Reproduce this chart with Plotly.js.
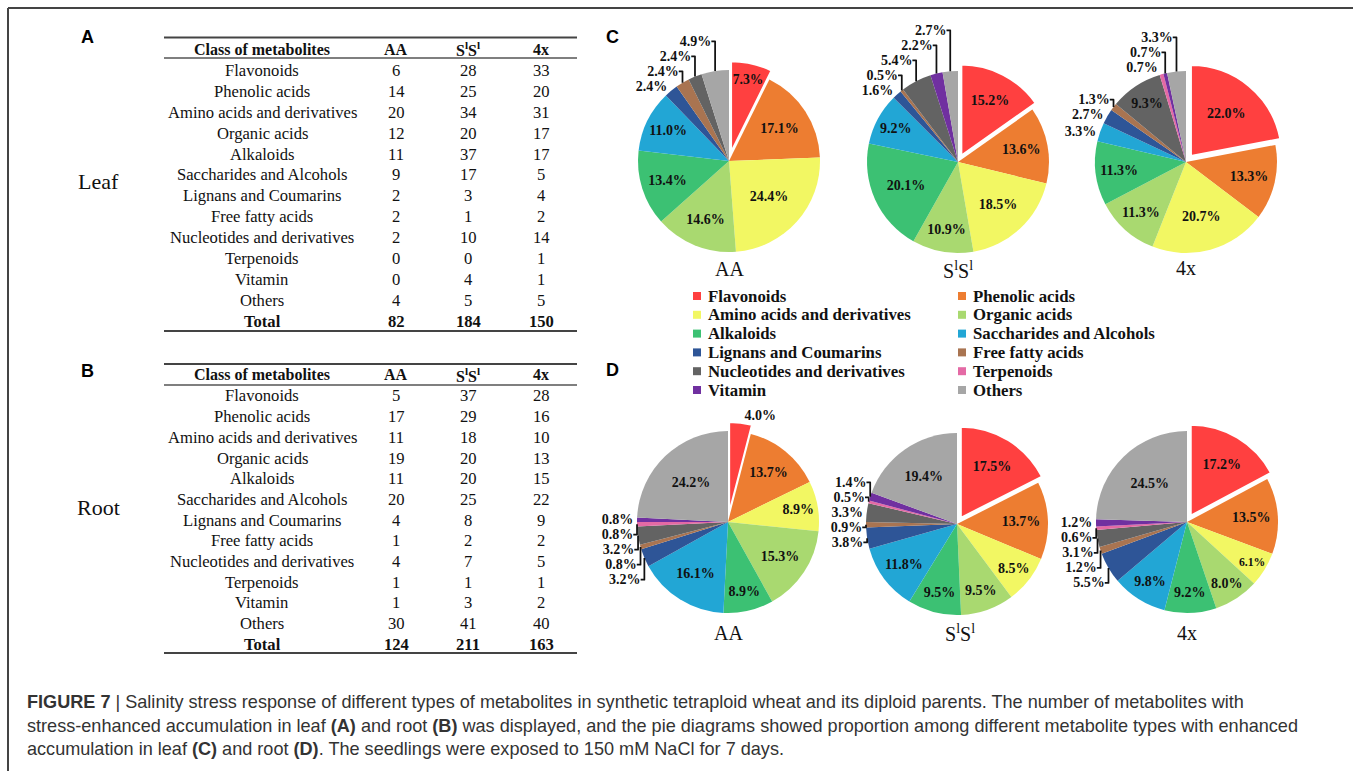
<!DOCTYPE html>
<html>
<head>
<meta charset="utf-8">
<script src="https://cdn.plot.ly/plotly-3.0.1.min.js"></script>
<style>html,body{margin:0;padding:0;background:#fff;}#chart{width:1355px;height:771px;}</style>
</head>
<body>
<div id="chart"></div>
<script>
// ---------- data ----------
const categories = ['Flavonoids','Phenolic acids','Amino acids and derivatives','Organic acids','Alkaloids',
  'Saccharides and Alcohols','Lignans and Coumarins','Free fatty acids','Nucleotides and derivatives',
  'Terpenoids','Vitamin','Others'];
const genotypes = ['AA','S<sup>l</sup>S<sup>l</sup>','4x'];
// table counts
const leafAA = [6,14,20,12,11,9,2,2,2,0,0,4];
const leafSS = [28,25,34,20,37,17,3,1,10,0,4,5];
const leaf4x = [33,20,31,17,17,5,4,2,14,1,1,5];
const rootAA = [5,17,11,19,11,20,4,1,4,1,1,30];
const rootSS = [37,29,18,20,20,25,8,2,7,1,3,41];
const root4x = [28,16,10,13,15,22,9,2,5,1,2,40];
// pie D "4x" as drawn in the figure (phenolic 13.5%, saccharides 9.8%)
const root4xPie = [28,22,10,13,15,16,9,2,5,1,2,40];
const colors = ['#FF4040','#ED7D31','#F2F763','#A9D970','#3CC173','#22A6D5','#2E5597','#A97451',
  '#636363','#E46AA5','#7030A0','#A6A6A6'];
const captionLines = [
  '<b>FIGURE 7</b> | Salinity stress response of different types of metabolites in synthetic tetraploid wheat and its diploid parents. The number of metabolites with',
  'stress-enhanced accumulation in leaf <b>(A)</b> and root <b>(B)</b> was displayed, and the pie diagrams showed proportion among different metabolite types with enhanced',
  'accumulation in leaf <b>(C)</b> and root <b>(D)</b>. The seedlings were exposed to 150 mM NaCl for 7 days.'
];

// ---------- helpers ----------
const W = 1355, H = 771;
const X = p => p / W;
const Y = p => 1 - p / H;
const SERIF = 'Liberation Serif, Times New Roman, serif';
const SANS = 'Liberation Sans, Arial, sans-serif';
const annotations = [];
const shapes = [];
function txt(x, y, text, size, opts) {
  opts = opts || {};
  annotations.push({
    xref: 'paper', yref: 'paper', x: X(x), y: Y(y), text: text, showarrow: false,
    xanchor: opts.xanchor || 'center', yanchor: 'middle',
    font: {family: opts.family || SERIF, size: size, color: opts.color || '#111', weight: opts.weight || 'normal'}
  });
}
function hline(x0, x1, y, w, color) {
  shapes.push({type: 'line', xref: 'paper', yref: 'paper', x0: X(x0), x1: X(x1), y0: Y(y), y1: Y(y),
    line: {color: color || '#333', width: w}});
}
const sum = a => a.reduce((s, v) => s + v, 0);

// ---------- tables ----------
function table(cfg, cols) {
  const cx = [262, 396, 468, 541];
  hline(164, 577, cfg.top, 2, '#444');
  hline(164, 577, cfg.headLine, 1.5, '#555');
  hline(164, 577, cfg.bottom, 2, '#444');
  txt(cx[0], cfg.head, 'Class of metabolites', 16, {weight: 'bold'});
  genotypes.forEach((g, j) => txt(cx[j + 1], cfg.head, g, 16, {weight: 'bold'}));
  categories.forEach((c, i) => {
    const y = cfg.first + i * cfg.step;
    txt(cx[0], y, c, 16.6);
    cols.forEach((col, j) => txt(cx[j + 1], y, String(col[i]), 16.6));
  });
  const yt = cfg.first + categories.length * cfg.step;
  txt(cx[0], yt, 'Total', 16.6, {weight: 'bold'});
  cols.forEach((col, j) => txt(cx[j + 1], yt, String(sum(col)), 16.6, {weight: 'bold'}));
  txt(98, cfg.side[1], cfg.side[0], 22);
}
table({top: 37.5, head: 49, headLine: 58, first: 70.7, step: 20.86, bottom: 331, side: ['Leaf', 181]},
  [leafAA, leafSS, leaf4x]);
table({top: 364, head: 374.5, headLine: 385, first: 396, step: 20.67, bottom: 653, side: ['Root', 507]},
  [rootAA, rootSS, root4x]);

// panel letters
[['A', 87, 37], ['B', 87, 371], ['C', 612, 37], ['D', 612, 370]].forEach(l =>
  txt(l[1], l[2], l[0], 18, {family: SANS, weight: 'bold', color: '#000'}));

// ---------- pies ----------
const traces = [];
function pie(values, cx, cy, r, pull) {
  const h = r * (1 + pull);
  const idx = values.map((v, i) => i).filter(i => values[i] > 0);   // zero classes are not drawn
  const total = sum(values);
  traces.push({
    type: 'pie', values: idx.map(i => values[i]), labels: idx.map(i => categories[i]),
    sort: false, direction: 'clockwise', rotation: 0,
    pull: idx.map(i => i === 0 ? pull : 0),
    marker: {colors: idx.map(i => colors[i]), line: {color: '#ffffff', width: idx.map(i => i === 0 ? 2 : 0)}},
    texttemplate: '%{percent:.1%}',
    textposition: idx.map(i => values[i] / total > 0.06 ? 'inside' : 'outside'),
    insidetextorientation: 'horizontal',
    textfont: {family: SERIF, size: 14, color: '#111', weight: 'bold'},
    outsidetextfont: {family: SERIF, size: 14, color: '#111', weight: 'bold'},
    domain: {x: [X(cx - h), X(cx + h)], y: [Y(cy + h), Y(cy - h)]},
    showlegend: false, hoverinfo: 'label+value+percent'
  });
}
pie(leafAA, 729, 161, 91, 0.1);
pie(leafSS, 958, 162, 91, 0.08);
pie(leaf4x, 1186, 162, 91, 0.085);
pie(rootAA, 728, 522, 91, 0.1);
pie(rootSS, 957, 524, 91, 0.08);
pie(root4xPie, 1187, 522, 91, 0.08);

[[729, 269], [958, 270], [1186, 268]].forEach((p, j) => txt(p[0], p[1], genotypes[j], 20));
[[728, 633], [960, 633], [1187, 633]].forEach((p, j) => txt(p[0], p[1], genotypes[j], 20));

// ---------- legend ----------
categories.forEach((c, i) => {
  const col = i % 2, row = Math.floor(i / 2);
  const y = 296 + row * 18.8;
  const sx = col === 0 ? 693 : 958;
  shapes.push({type: 'rect', xref: 'paper', yref: 'paper', x0: X(sx), x1: X(sx + 8), y0: Y(y + 4), y1: Y(y - 4),
    fillcolor: colors[i], line: {width: 0}});
  txt(sx + 13, y, c, 16.8, {xanchor: 'left', weight: 'bold', color: '#111'});
});

// ---------- caption & frame ----------
[702, 725.5, 749].forEach((y, k) => txt(25, y, captionLines[k], 18.1, {family: SANS, xanchor: 'left', color: '#333'}));
shapes.push({type: 'line', xref: 'paper', yref: 'paper', x0: X(8), x1: X(1353), y0: Y(8), y1: Y(8), line: {color: '#444', width: 2}});
shapes.push({type: 'line', xref: 'paper', yref: 'paper', x0: X(8), x1: X(8), y0: Y(8), y1: Y(771), line: {color: '#444', width: 2}});

const layout = {
  width: W, height: H, margin: {l: 0, r: 0, t: 0, b: 0},
  paper_bgcolor: '#ffffff', plot_bgcolor: '#ffffff',
  xaxis: {visible: false}, yaxis: {visible: false},
  annotations: annotations, shapes: shapes, showlegend: false
};
Plotly.newPlot('chart', traces, layout, {displayModeBar: false, staticPlot: true});
</script>
</body>
</html>
